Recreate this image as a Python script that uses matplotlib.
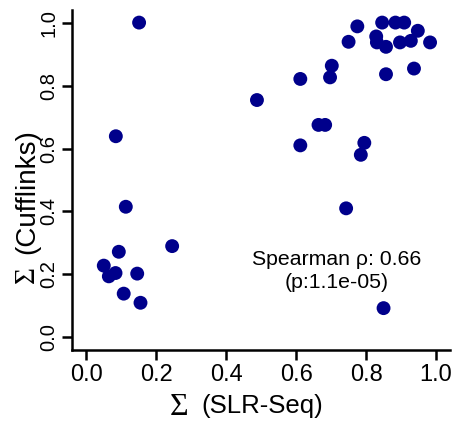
import matplotlib
matplotlib.use("Agg")
import matplotlib.pyplot as plt

plt.rcParams['font.family'] = ['Liberation Sans', 'DejaVu Sans']

# SLR-Seq vs Cufflinks values
slr_seq = [0.775, 0.846, 0.884, 0.909, 0.948, 0.829, 0.831, 0.857, 0.897, 0.928,
           0.983, 0.750, 0.702, 0.697, 0.612, 0.857, 0.937, 0.488, 0.664, 0.683,
           0.612, 0.795, 0.785, 0.743, 0.850, 0.151, 0.0845, 0.113, 0.2455, 0.093,
           0.050, 0.0645, 0.0836, 0.1456, 0.107, 0.155]
cufflinks = [0.988, 1.0, 1.0, 1.0, 0.974, 0.956, 0.937, 0.923, 0.937, 0.942,
             0.937, 0.939, 0.863, 0.826, 0.821, 0.836, 0.854, 0.754, 0.675, 0.675,
             0.610, 0.618, 0.580, 0.410, 0.093, 1.0, 0.639, 0.415, 0.290, 0.272,
             0.228, 0.194, 0.2045, 0.2026, 0.139, 0.110]
ticks = [0.0, 0.2, 0.4, 0.6, 0.8, 1.0]
tick_labels = ['0.0', '0.2', '0.4', '0.6', '0.8', '1.0']
rho_text = 'Spearman \u03c1: 0.66'
p_text = '(p:1.1e-05)'
x_name = '(SLR-Seq)'
y_name = '(Cufflinks)'

W, H = 455, 421
fig = plt.figure(figsize=(4.55, 4.21), dpi=100)
ax = fig.add_axes([72.3 / W, 1 - 350 / H, (450 - 72.3) / W, 340 / H])
ax.scatter(slr_seq, cufflinks, s=100, color='#00008B', edgecolors='none', zorder=3)
ax.set_xlim(-0.04, 1.04)
ax.set_ylim(-0.04, 1.04)

ax.spines['top'].set_visible(False)
ax.spines['right'].set_visible(False)
for sp in ['left', 'bottom']:
    ax.spines[sp].set_linewidth(1.8)

ax.set_xticks(ticks)
ax.set_xticklabels(tick_labels, fontsize=17)
ax.set_yticks(ticks)
ax.set_yticklabels(tick_labels, fontsize=14.5, rotation=90, va='center')
ax.tick_params(direction='out', length=7, width=1.8, pad=3)

# axis titles: sigma + name
fig.text(170 / W, 1 - 415 / H, '\u03a3', fontsize=23, family='Liberation Serif',
         ha='left', va='baseline')
fig.text(201 / W, 1 - 413 / H, x_name, fontsize=18.5, ha='left', va='baseline')
fig.text(34 / W, 1 - 283 / H, '\u03a3', fontsize=21, family='Liberation Serif',
         ha='left', va='baseline', rotation=90, rotation_mode='anchor')
fig.text(34 / W, 1 - 254 / H, y_name, fontsize=20, ha='left', va='baseline',
         rotation=90, rotation_mode='anchor')

ax.text(0.717, 0.248, rho_text, fontsize=15.3, ha='center', va='center')
ax.text(0.717, 0.176, p_text, fontsize=15.3, ha='center', va='center')

fig.savefig('out.png', dpi=100)
